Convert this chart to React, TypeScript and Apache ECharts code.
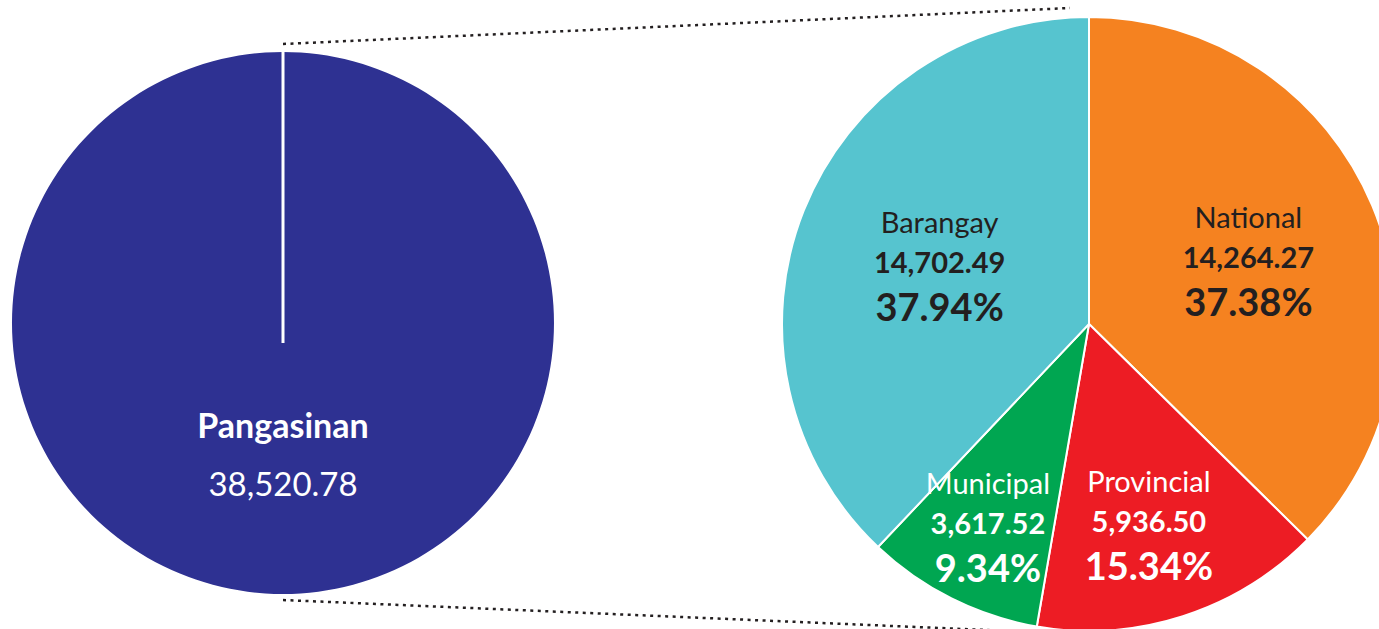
import React, { useEffect, useRef } from "react";
import * as echarts from "echarts";

const totalName = "Pangasinan";
const totalValue = 38520.78;

const categories = ["National", "Provincial", "Municipal", "Barangay"];
const amounts = [14264.27, 5936.5, 3617.52, 14702.49];
const shares = [37.38, 15.34, 9.34, 37.94];
const colors = ["#F58220", "#ED1C24", "#00A651", "#56C4CF"];
const textColors = ["#231F20", "#FFFFFF", "#FFFFFF", "#231F20"];
// label nudges (px) relative to ECharts' inside position
const labelNudge = [
  [15, -3],
  [12, 52],
  [-31, 63],
  [-4, 0],
];

const FONT = "Lato, 'Open Sans', sans-serif";
const fmt = (v: number) =>
  v.toLocaleString("en-US", { minimumFractionDigits: 2, maximumFractionDigits: 2 });

export default function App() {
  const ref = useRef<HTMLDivElement>(null);
  useEffect(() => {
    if (!ref.current) return;
    const chart = echarts.init(ref.current, null, { renderer: "svg" });
    const leftC = [283, 323];
    const leftR = 271;
    const rightC = [1089, 324];
    const rightR = 307;

    const richFor = (color: string) => ({
      n: { fontFamily: FONT, fontSize: 29, color, lineHeight: 39, align: "center" },
      v: { fontFamily: FONT, fontSize: 29, fontWeight: "bold", color, lineHeight: 41, align: "center" },
      p: { fontFamily: FONT, fontSize: 38, fontWeight: "bold", color, lineHeight: 48, align: "center" },
    });

    chart.setOption({
      animation: false,
      series: [
        {
          type: "pie",
          center: leftC,
          radius: [0, leftR],
          startAngle: 90,
          silent: true,
          itemStyle: { color: "#2E3192", borderWidth: 0 },
          label: {
            position: "inside",
            formatter: (p: any) => `{n|${p.name}}\n{v|${fmt(p.value)}}`,
            rich: {
              n: { fontFamily: FONT, fontSize: 34, fontWeight: "bold", color: "#fff", lineHeight: 58, align: "center" },
              v: { fontFamily: FONT, fontSize: 33, color: "#fff", lineHeight: 58, align: "center" },
            },
          },
          labelLine: { show: false },
          labelLayout: () => ({ dy: -8 }),
          data: [{ name: totalName, value: totalValue }],
        },
        {
          type: "pie",
          center: rightC,
          radius: [0, rightR],
          startAngle: 90,
          clockwise: true,
          silent: true,
          itemStyle: { borderColor: "#fff", borderWidth: 2 },
          label: { position: "inside" },
          labelLine: { show: false },
          labelLayout: (params: any) => {
            const nd = labelNudge[params.dataIndex] || [0, 0];
            return { dx: nd[0], dy: nd[1] };
          },
          data: categories.map((c, i) => ({
            name: c,
            value: shares[i],
            itemStyle: { color: colors[i] },
            label: {
              formatter: `{n|${c}}\n{v|${fmt(amounts[i])}}\n{p|${shares[i].toFixed(2)}%}`,
              rich: richFor(textColors[i]),
            },
          })),
        },
      ],
      graphic: [
        {
          type: "line",
          shape: { x1: leftC[0], y1: leftC[1] - leftR, x2: leftC[0], y2: leftC[1] + 20 },
          style: { stroke: "#fff", lineWidth: 3 },
          z: 100,
        },
        {
          type: "line",
          shape: { x1: 283, y1: 44, x2: 1070, y2: 8 },
          style: { stroke: "#231F20", lineWidth: 2.5, lineDash: [3, 4.5] },
        },
        {
          type: "line",
          shape: { x1: 283, y1: 600, x2: 1010, y2: 631 },
          style: { stroke: "#231F20", lineWidth: 2.5, lineDash: [3, 4.5] },
        },
      ],
    });
    return () => chart.dispose();
  }, []);
  return (
    <div
      ref={ref}
      style={{ position: "fixed", left: 0, top: 0, width: 1379, height: 629, background: "#fff" }}
    />
  );
}
